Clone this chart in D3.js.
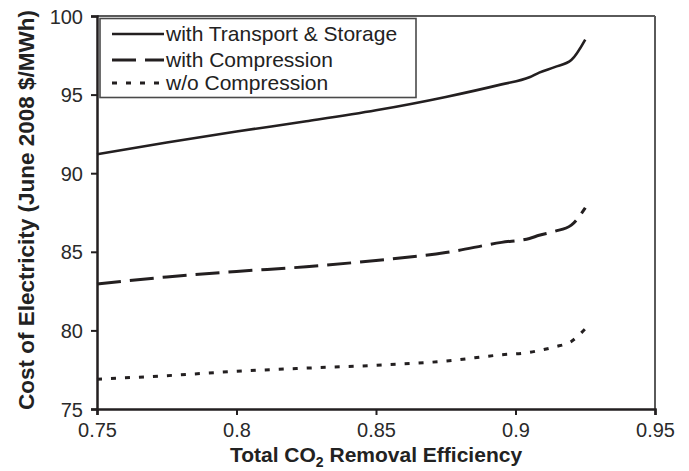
<!DOCTYPE html>
<html>
<head>
<meta charset="utf-8">
<script src="https://cdn.jsdelivr.net/npm/d3@7"></script>
<style>
  html, body { margin: 0; padding: 0; background: #fff; }
  svg { display: block; font-family: "Liberation Sans", Arial, sans-serif; }
</style>
</head>
<body>
<svg id="chart" width="689" height="471"></svg>
<script>
// Total CO2 removal efficiency (shared x values for all three curves)
const efficiency = [0.75, 0.775, 0.8, 0.825, 0.85, 0.875, 0.895, 0.905, 0.9085, 0.914, 0.92, 0.925];

// Cost of electricity, June 2008 $/MWh
const withTransportStorage = [91.2, 91.95, 92.65, 93.3, 94.0, 94.85, 95.65, 96.1, 96.4, 96.75, 97.2, 98.5];
const withCompression      = [82.95, 83.4, 83.75, 84.05, 84.45, 84.95, 85.6, 85.85, 86.05, 86.3, 86.7, 87.8];
const withoutCompression   = [76.9, 77.12, 77.4, 77.6, 77.78, 78.05, 78.45, 78.6, 78.72, 78.95, 79.3, 80.1];

const seriesNames = ["with Transport & Storage", "with Compression", "w/o Compression"];
const xTicks = [0.75, 0.8, 0.85, 0.9, 0.95];
const yTicks = [75, 80, 85, 90, 95, 100];

const svg = d3.select("#chart");
const ink = "#231f20";

const plot = { left: 97, right: 655, top: 16, bottom: 409 };

const x = d3.scaleLinear().domain([0.75, 0.95]).range([plot.left, plot.right]);
const y = d3.scaleLinear().domain([75, 100]).range([plot.bottom, plot.top]);

// Frame: grey top/right edges, black axes on left/bottom
svg.append("line")
  .attr("x1", plot.left).attr("x2", plot.right)
  .attr("y1", plot.top).attr("y2", plot.top)
  .attr("stroke", "#5a5a5a").attr("stroke-width", 2);
svg.append("line")
  .attr("x1", plot.right).attr("x2", plot.right)
  .attr("y1", plot.top).attr("y2", plot.bottom)
  .attr("stroke", "#5a5a5a").attr("stroke-width", 2);

const xAxis = svg.append("g")
  .attr("transform", `translate(0,${plot.bottom})`)
  .call(d3.axisBottom(x).tickValues(xTicks).tickSize(6).tickPadding(8)
        .tickFormat(d => d3.format("")(+d.toFixed(2))));
const yAxis = svg.append("g")
  .attr("transform", `translate(${plot.left},0)`)
  .call(d3.axisLeft(y).tickValues(yTicks).tickSize(6).tickPadding(8));

[xAxis, yAxis].forEach(g => {
  g.select(".domain").attr("stroke", ink).attr("stroke-width", 2.5);
  g.selectAll(".tick line").attr("stroke", ink).attr("stroke-width", 2);
  g.selectAll(".tick text")
    .attr("fill", "#2a2a2a")
    .style("font-size", "20px")
    .style("font-family", "'Liberation Sans', Arial, sans-serif");
});
yAxis.selectAll(".tick text").attr("dy", "0.35em");
xAxis.selectAll(".tick text").attr("dy", "0.71em");

// Curves
const styles = [
  { data: withTransportStorage, dash: null, width: 2.6 },
  { data: withCompression, dash: "24,9", width: 3 },
  { data: withoutCompression, dash: "5,9", width: 3 }
];

const line = d3.line()
  .x(d => x(d[0]))
  .y(d => y(d[1]))
  .curve(d3.curveMonotoneX);

styles.forEach(s => {
  svg.append("path")
    .datum(efficiency.map((e, i) => [e, s.data[i]]))
    .attr("d", line)
    .attr("fill", "none")
    .attr("stroke", ink)
    .attr("stroke-width", s.width)
    .attr("stroke-dasharray", s.dash);
});

// Legend
const legend = svg.append("g");
legend.append("rect")
  .attr("x", 100).attr("y", 18.5)
  .attr("width", 316).attr("height", 79)
  .attr("fill", "#fff")
  .attr("stroke", "#4a4a4a").attr("stroke-width", 1.6);

const rowY = [34, 60, 83];
styles.forEach((s, i) => {
  legend.append("line")
    .attr("x1", 112).attr("x2", 164)
    .attr("y1", rowY[i]).attr("y2", rowY[i])
    .attr("stroke", ink)
    .attr("stroke-width", s.width)
    .attr("stroke-dasharray", s.dash);
  legend.append("text")
    .attr("x", 166).attr("y", rowY[i] + 7)
    .attr("fill", "#222")
    .style("font-size", "21px")
    .text(seriesNames[i]);
});

// Axis titles
const xTitle = svg.append("text")
  .attr("x", (plot.left + plot.right) / 2)
  .attr("y", 462)
  .attr("text-anchor", "middle")
  .attr("fill", "#222")
  .style("font-size", "21px")
  .style("font-weight", "bold");
xTitle.append("tspan").text("Total CO");
xTitle.append("tspan").attr("dy", 5).style("font-size", "14px").text("2");
xTitle.append("tspan").attr("dy", -5).text(" Removal Efficiency");

svg.append("text")
  .attr("transform", `translate(34,210) rotate(-90)`)
  .attr("text-anchor", "middle")
  .attr("fill", "#222")
  .style("font-size", "22.5px")
  .style("font-weight", "bold")
  .text("Cost of Electricity (June 2008 $/MWh)");
</script>
</body>
</html>
